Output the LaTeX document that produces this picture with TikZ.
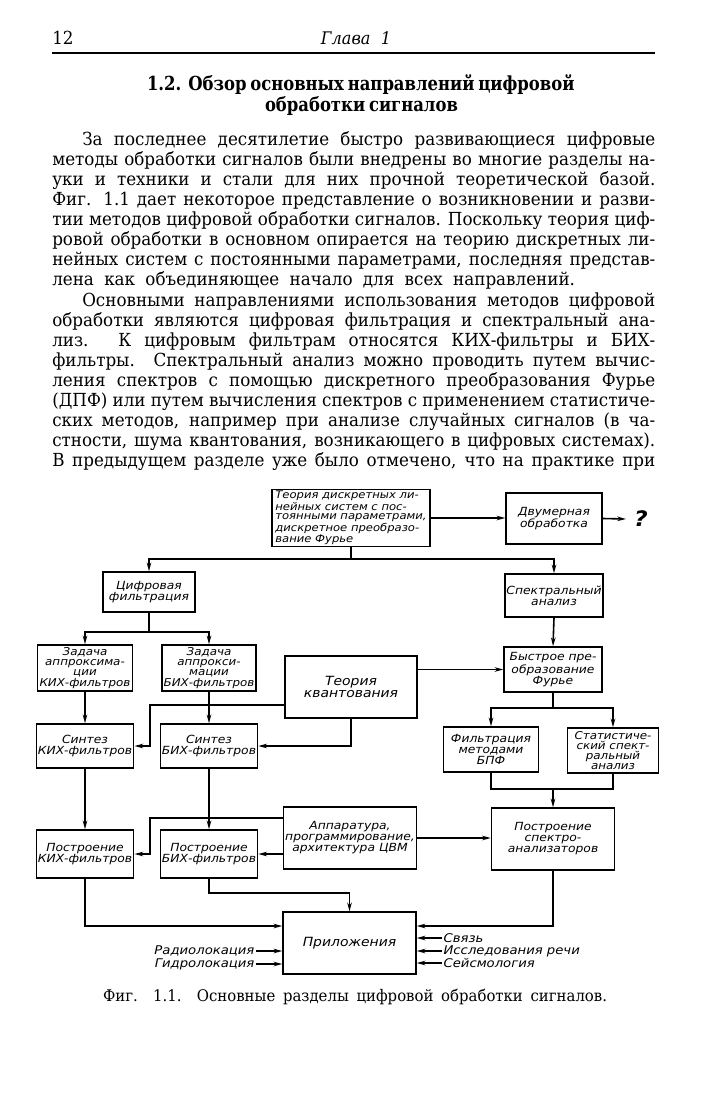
\documentclass[tikz,border=0pt]{standalone}
\usepackage{fontspec}
\setmainfont{DejaVu Serif}[FakeStretch=0.93]
\newfontfamily\headfont[FakeStretch=0.85]{DejaVu Serif}
\newfontfamily\drawfont[FakeStretch=1.1]{DejaVu Sans}
\usetikzlibrary{arrows.meta,calc}
\newlength\colw
\setlength\colw{452.25pt}
\tikzset{
  blk/.style={draw, line width=1.1pt, inner sep=1.2pt, align=center,
    font=\drawfont\itshape\fontsize{8.4}{8.2}\selectfont},
  teorbox/.style={blk, align=left, inner sep=1pt,
    font=\drawfont\itshape\fontsize{7.9}{7.3}\selectfont},
  tight/.style={font=\drawfont\itshape\fontsize{8.1}{7.6}\selectfont},
  sz/.style 2 args={minimum width=#1*0.75pt, minimum height=#2*0.75pt},
  lbl/.style={inner sep=1pt, font=\drawfont\itshape\fontsize{9}{9}\selectfont},
  arr/.style={line width=1.2pt, -{Stealth[length=6.5pt,width=3.4pt]}},
  ln/.style={line width=1.2pt},
  txt/.style={anchor=base west, inner sep=0pt, font=\fontsize{13.5}{15}\selectfont},
}
\begin{document}
\begin{tikzpicture}[x=0.75pt,y=-0.75pt]
\fill[white] (0,0) rectangle (700,1102);
\useasboundingbox (0,0) rectangle (700,1102);
% page head
\node[txt] (pg) at (52,45) {12};
\node[txt, anchor=base, font=\fontsize{13}{15}\itshape] (chap) at (356,45) {Глава\ \ 1};
\draw[line width=0.9pt] (52,53) -- (655,53);
\node[anchor=base, inner sep=0pt, font=\headfont\bfseries\fontsize{14.5}{16}\selectfont] (tt1) at (357,91)
  {\makebox[315pt][s]{1.2. Обзор основных направлений цифровой}};
\node[anchor=base, inner sep=0pt, font=\headfont\bfseries\fontsize{14.5}{16}\selectfont] (tt2) at (356,112)
  {\makebox[136.5pt][s]{обработки сигналов}};
% text
\node[txt] (p1a) at (82,145.5) {\makebox[\dimexpr\colw-22.5pt][s]{За последнее десятилетие быстро развивающиеся цифровые}};
\node[txt] (p1b) at (52,165.6) {\makebox[\colw][s]{методы обработки сигналов были внедрены во многие разделы на-}};
\node[txt] (p1c) at (52,185.6) {\makebox[\colw][s]{уки и техники и стали для них прочной теоретической базой.}};
\node[txt] (p1d) at (52,205.7) {\makebox[\colw][s]{Фиг. 1.1 дает некоторое представление о возникновении и разви-}};
\node[txt] (p1e) at (52,225.7) {\makebox[\colw][s]{тии методов цифровой обработки сигналов. Поскольку теория циф-}};
\node[txt] (p1f) at (52,245.8) {\makebox[\colw][s]{ровой обработки в основном опирается на теорию дискретных ли-}};
\node[txt] (p1g) at (52,265.9) {\makebox[\colw][s]{нейных систем с постоянными параметрами, последняя представ-}};
\node[txt] (p1h) at (52,285.9) {\makebox[392pt][s]{лена как объединяющее начало для всех направлений.}};
\node[txt] (p2a) at (82,306) {\makebox[\dimexpr\colw-22.5pt][s]{Основными направлениями использования методов цифровой}};
\node[txt] (p2b) at (52,326) {\makebox[\colw][s]{обработки являются цифровая фильтрация и спектральный ана-}};
\node[txt] (p2c) at (52,346.1) {\makebox[\colw][s]{лиз. К цифровым фильтрам относятся КИХ-фильтры и БИХ-}};
\node[txt] (p2d) at (52,366.2) {\makebox[\colw][s]{фильтры. Спектральный анализ можно проводить путем вычис-}};
\node[txt] (p2e) at (52,386.2) {\makebox[\colw][s]{ления спектров с помощью дискретного преобразования Фурье}};
\node[txt] (p2f) at (52,406.3) {\makebox[\colw][s]{(ДПФ) или путем вычисления спектров с применением статистиче-}};
\node[txt] (p2g) at (52,426.3) {\makebox[\colw][s]{ских методов, например при анализе случайных сигналов (в ча-}};
\node[txt] (p2h) at (52,446.4) {\makebox[\colw][s]{стности, шума квантования, возникающего в цифровых системах).}};
\node[txt] (p2i) at (52,466.5) {\makebox[\colw][s]{В предыдущем разделе уже было отмечено, что на практике при}};
% diagram
\node[teorbox, sz={158}{52}] (teor) at (351,518) {Теория дискретных ли-\\нейных систем с пос-\\тоянными параметрами,\\дискретное преобразо-\\вание Фурье};
\node[blk, sz={96}{51}] (dvum) at (554,518.5) {Двумерная\\обработка};
\node[inner sep=6pt, font=\drawfont\itshape\bfseries\fontsize{16}{16}\selectfont] (q) at (641,519) {?};
\node[blk, sz={92}{40}] (dig) at (149,592) {Цифровая\\фильтрация};
\node[blk, sz={97}{43}] (spec) at (554,595.5) {Спектральный\\анализ};
\node[blk, tight, sz={95}{46}] (zkih) at (85,668) {Задача\\аппроксима-\\ции\\КИХ-фильтров};
\node[blk, tight, sz={94}{46}] (zbih) at (209,668) {Задача\\аппрокси-\\мации\\БИХ-фильтров};
\node[blk, sz={132}{62}, font=\drawfont\itshape\fontsize{9.5}{9.5}\selectfont] (kvant) at (351,687) {Теория\\квантования};
\node[blk, sz={98}{45}] (bpf) at (553,669.5) {Быстрое пре-\\образование\\Фурье};
\node[blk, sz={95}{44}] (skih) at (85,746) {Синтез\\КИХ-фильтров};
\node[blk, sz={94}{44}] (sbih) at (209,746) {Синтез\\БИХ-фильтров};
\node[blk, sz={95}{45}] (filt) at (491,749.5) {Фильтрация\\методами\\БПФ};
\node[blk, tight, sz={91}{45}] (stat) at (613,750.5) {Статистиче-\\ский спект-\\ральный\\анализ};
\node[blk, sz={132}{62}] (app) at (350,838) {Аппаратура,\\программирование,\\архитектура ЦВМ};
\node[blk, sz={123}{62}] (an) at (553,839) {Построение\\спектро-\\анализаторов};
\node[blk, sz={94}{48}] (pkih) at (85,854) {Построение\\КИХ-фильтров};
\node[blk, sz={95}{48}] (pbih) at (209,854) {Построение\\БИХ-фильтров};
\node[blk, sz={133}{62}, font=\drawfont\itshape\fontsize{9.5}{9.5}\selectfont] (prl) at (349.5,943) {Приложения};
\node[lbl, anchor=east] (radio) at (256,951) {Радиолокация};
\node[lbl, anchor=east] (hydro) at (256,964) {Гидролокация};
\node[lbl, anchor=west] (svyaz) at (442,938) {Связь};
\node[lbl, anchor=west] (rech) at (442,951) {Исследования речи};
\node[lbl, anchor=west] (seism) at (442,963) {Сейсмология};
\coordinate (top) at (351,559);
\coordinate (dj) at (149,632);
\coordinate (kq) at (150,705);
\coordinate (bj) at (553,708);
\coordinate (mj) at (553,789);
\coordinate (aq) at (150,818);
\coordinate (pj) at (349.5,893);
\coordinate (pin) at (0,926);
\draw[arr] (teor.east) -- (teor.east -| dvum.west);
\draw[arr] (dvum.east) -- (q.west);
\draw[ln] (teor.south) -- (top);
\draw[arr] (top) -| (dig.north);
\draw[arr] (top) -| (spec.north);
\draw[ln] (dig.south) -- (dj);
\draw[arr] (dj) -| (zkih.north);
\draw[arr] (dj) -| (zbih.north);
\draw[arr] (zkih.south) -- (skih.north);
\draw[arr] (zbih.south) -- (sbih.north);
\draw[arr] (kq -| kvant.west) -- (kq) |- (skih.east);
\draw[arr] (kvant.south) |- (sbih.east);
\draw[arr] (kvant.east |- bpf.west) -- (bpf.west);
\draw[arr] (spec.south) -- (bpf.north);
\draw[ln] (bpf.south) -- (bj);
\draw[arr] (bj) -| (filt.north);
\draw[arr] (bj) -| (stat.north);
\draw[ln] (filt.south) |- (mj) -| (stat.south);
\draw[arr] (mj) -- (an.north);
\draw[arr] (app.east) -- (app.east -| an.west);
\draw[arr] (skih.south) -- (pkih.north);
\draw[arr] (sbih.south) -- (pbih.north);
\draw[arr] (aq -| app.west) -- (aq) |- (pkih.east);
\draw[arr] (app.west |- pbih.east) -- (pbih.east);
\draw[arr] (pbih.south) |- (pj) -- (prl.north);
\draw[arr] (pkih.south) |- (prl.west |- pin);
\draw[arr] (an.south) |- (prl.east |- pin);
\draw[arr] (radio.east) -- (radio.east -| prl.west);
\draw[arr] (hydro.east) -- (hydro.east -| prl.west);
\draw[arr] (svyaz.west) -- (svyaz.west -| prl.east);
\draw[arr] (rech.west) -- (rech.west -| prl.east);
\draw[arr] (seism.west) -- (seism.west -| prl.east);
\node[anchor=base, inner sep=0pt, font=\fontsize{12}{13}\selectfont] (cap) at (355,1001)
  {\makebox[378pt][s]{Фиг. 1.1. Основные разделы цифровой обработки сигналов.}};
\end{tikzpicture}
\end{document}
